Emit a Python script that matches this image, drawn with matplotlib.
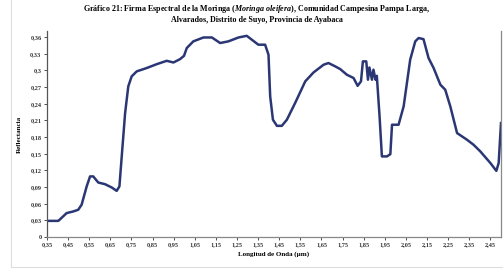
import matplotlib
matplotlib.use("Agg")
import matplotlib.pyplot as plt
import numpy as np
from matplotlib.ticker import FuncFormatter, FixedLocator

wavelength = [0.356, 0.404, 0.443, 0.475, 0.498, 0.514, 0.538, 0.554, 0.569, 0.593,
              0.625, 0.657, 0.680, 0.693, 0.704, 0.720, 0.735, 0.751, 0.775, 0.822,
              0.870, 0.917, 0.949, 0.980, 0.999, 1.012, 1.043, 1.091, 1.131, 1.170,
              1.209, 1.257, 1.296, 1.320, 1.351, 1.383, 1.399, 1.407, 1.420, 1.439,
              1.462, 1.486, 1.525, 1.573, 1.612, 1.660, 1.683, 1.715, 1.739, 1.770,
              1.802, 1.821, 1.837, 1.846, 1.862, 1.870, 1.877, 1.889, 1.896, 1.906,
              1.912, 1.925, 1.936, 1.960, 1.976, 1.984, 2.015, 2.039, 2.070, 2.094,
              2.110, 2.133, 2.157, 2.181, 2.213, 2.236, 2.260, 2.292, 2.339, 2.370,
              2.402, 2.450, 2.478, 2.489, 2.500]
reflectance = [0.029, 0.029, 0.043, 0.046, 0.049, 0.058, 0.091, 0.109, 0.109, 0.098,
               0.095, 0.089, 0.083, 0.091, 0.145, 0.223, 0.271, 0.289, 0.298, 0.304,
               0.311, 0.317, 0.314, 0.320, 0.326, 0.340, 0.352, 0.359, 0.359, 0.349,
               0.352, 0.359, 0.362, 0.355, 0.346, 0.346, 0.328, 0.253, 0.211, 0.200,
               0.200, 0.211, 0.241, 0.280, 0.296, 0.310, 0.313, 0.307, 0.302, 0.292,
               0.286, 0.272, 0.280, 0.316, 0.316, 0.283, 0.305, 0.283, 0.301, 0.283,
               0.290, 0.217, 0.145, 0.145, 0.149, 0.202, 0.202, 0.235, 0.319, 0.352,
               0.358, 0.356, 0.322, 0.304, 0.274, 0.265, 0.235, 0.187, 0.175, 0.166,
               0.154, 0.133, 0.119, 0.133, 0.205]

x_ticks = [0.35, 0.45, 0.55, 0.65, 0.75, 0.85, 0.95, 1.05, 1.15, 1.25, 1.35, 1.45,
           1.55, 1.65, 1.75, 1.85, 1.95, 2.05, 2.15, 2.25, 2.35, 2.45]
y_ticks = [0, 0.03, 0.06, 0.09, 0.12, 0.15, 0.18, 0.21, 0.24, 0.27, 0.30, 0.33, 0.36]

title1 = "Gráfico 21: Firma Espectral de la Moringa ($\\it{Moringa\\ oleifera}$), Comunidad Campesina Pampa Larga,"
title2 = "Alvarados, Distrito de Suyo, Provincia de Ayabaca"
xlabel = "Longitud de Onda (µm)"
ylabel = "Reflectancia"

plt.rcParams['font.family'] = ['Liberation Serif', 'DejaVu Serif']
plt.rcParams['mathtext.fontset'] = 'custom'
plt.rcParams['mathtext.it'] = 'Liberation Serif:italic:bold'
plt.rcParams['mathtext.rm'] = 'Liberation Serif:bold'

fig = plt.figure(figsize=(5.03, 2.72), dpi=100)
ax = fig.add_axes([0.0934, 0.1287, 0.9026, 0.756])

ax.plot(wavelength, reflectance, color='#2B3775', lw=1.8, solid_joinstyle='round')

ax.set_xlim(0.35, 2.5)
ax.set_ylim(0, 0.37)
ax.xaxis.set_major_locator(FixedLocator(x_ticks))
ax.yaxis.set_major_locator(FixedLocator(y_ticks))

def fmt(v, pos):
    s = f"{v:.2f}".rstrip('0').rstrip('.')
    return s.replace('.', ',')

ax.xaxis.set_major_formatter(FuncFormatter(fmt))
ax.yaxis.set_major_formatter(FuncFormatter(fmt))
ax.tick_params(axis='both', labelsize=4.5, length=2, width=0.6, pad=2, colors='#333333')
for lab in ax.get_xticklabels() + ax.get_yticklabels():
    lab.set_fontweight('bold')

ax.spines['top'].set_visible(False)
for s in ['left', 'bottom', 'right']:
    ax.spines[s].set_color('#888888')
    ax.spines[s].set_linewidth(0.9)
ax.spines['left'].set_color('#555555')

ax.set_xlabel(xlabel, fontsize=5, fontweight='bold', labelpad=3)
ax.set_ylabel(ylabel, fontsize=5, fontweight='bold', labelpad=6)

fig.text(0.51, 0.968, title1, ha='center', va='center', fontsize=5.8, fontweight='bold')
fig.text(0.51, 0.926, title2, ha='center', va='center', fontsize=5.8, fontweight='bold')

# outer chart-area border (light gray)
fig.add_artist(plt.Line2D([0.022, 0.022], [0.018, 1.0], transform=fig.transFigure,
                          color='#dddddd', lw=0.8))
fig.add_artist(plt.Line2D([0.022, 1.0], [0.018, 0.018], transform=fig.transFigure,
                          color='#dddddd', lw=0.8))

fig.savefig('out.png', dpi=100)
